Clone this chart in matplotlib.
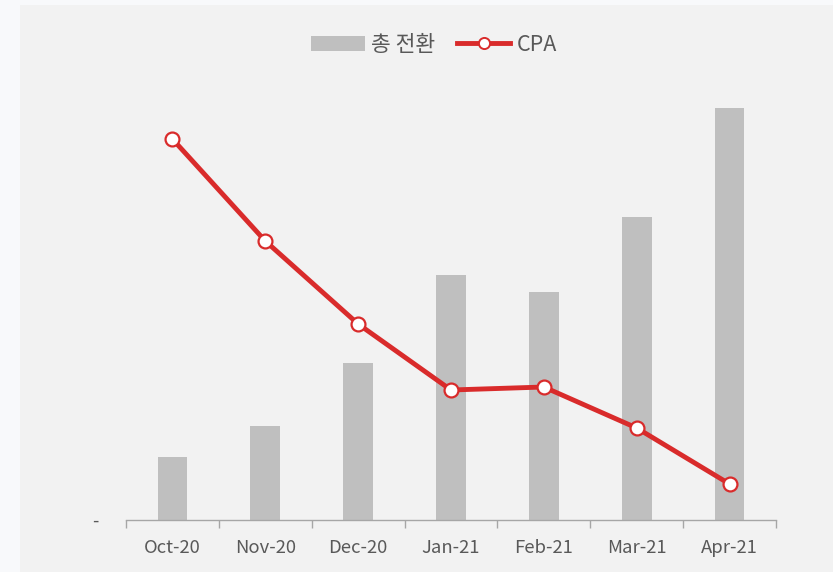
import matplotlib
matplotlib.use("Agg")
import matplotlib.pyplot as plt
from matplotlib.patches import Rectangle, Patch
from matplotlib.lines import Line2D

plt.rcParams['font.family'] = ['Noto Sans CJK KR', 'DejaVu Sans']

months = ["Oct-20", "Nov-20", "Dec-20", "Jan-21", "Feb-21", "Mar-21", "Apr-21"]
conversions = [63, 94, 157, 245, 228, 303, 412]
cpa = [381, 279, 196, 130, 133, 92, 36]

W, H = 833, 572
fig = plt.figure(figsize=(W / 100, H / 100), dpi=100, facecolor="#f8f9fb")
fig.patches.append(Rectangle((20 / W, 0), 1, (H - 5) / H, transform=fig.transFigure,
                             facecolor="#f2f2f2", edgecolor="none", zorder=-5))

ax = fig.add_axes([126 / W, (H - 520) / H, (776 - 126) / W, (520 - 75) / H])
ax.set_facecolor("none")
x = list(range(len(months)))
ax.bar(x, conversions, width=0.32, color="#bfbfbf", zorder=2)
ax.set_xlim(-0.5, len(months) - 0.5)
ax.set_ylim(0, 445)
ax.set_xticks(x)
ax.set_xticklabels(months, fontsize=13.3, color="#595959")
ax.set_xticks([i - 0.5 for i in range(len(months) + 1)], minor=True)
ax.tick_params(axis="x", which="major", length=0, pad=14)
ax.tick_params(axis="x", which="minor", length=6, color="#a6a6a6", width=1)
ax.set_yticks([0])
ax.set_yticklabels(["-"], fontsize=13, color="#595959")
ax.tick_params(axis="y", length=0, pad=20)
for s in ["top", "right", "left"]:
    ax.spines[s].set_visible(False)
ax.spines["bottom"].set_color("#a6a6a6")
ax.spines["bottom"].set_linewidth(1)

ax2 = ax.twinx()
ax2.set_ylim(0, 445)
ax2.plot(x, cpa, color="#d92b2b", linewidth=3.5, marker="o", markersize=10,
         markerfacecolor="white", markeredgecolor="#d92b2b", markeredgewidth=1.6, zorder=3)
ax2.set_yticks([])
for s in ax2.spines.values():
    s.set_visible(False)

handles = [Patch(facecolor="#bfbfbf", edgecolor="none"),
           Line2D([], [], color="#d92b2b", linewidth=3.5, marker="o", markersize=8,
                  markerfacecolor="white", markeredgecolor="#d92b2b", markeredgewidth=1.4)]
fig.legend(handles, ["총 전환", "CPA"], loc="center", bbox_to_anchor=(434 / W, 1 - 45 / H),
           ncol=2, frameon=False, fontsize=15.5, labelcolor="#595959",
           handlelength=2.5, handletextpad=0.3, columnspacing=1.0)

fig.savefig("out.png", dpi=100, facecolor=fig.get_facecolor())
